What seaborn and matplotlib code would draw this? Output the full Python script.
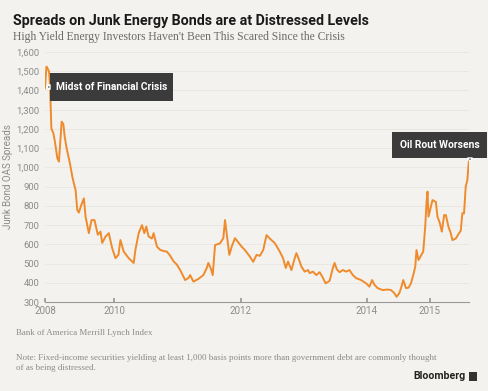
import matplotlib
matplotlib.use("Agg")
import matplotlib.pyplot as plt
import pandas as pd
import seaborn as sns
from matplotlib.patches import Polygon

# --- data (x = decimal year) ---
years = [
    2008.899, 2008.922, 2008.947, 2008.963, 2008.978, 2008.989, 2009.000, 2009.032,
    2009.057, 2009.095, 2009.120, 2009.136, 2009.163, 2009.190, 2009.211, 2009.242,
    2009.294, 2009.332, 2009.357, 2009.384, 2009.411, 2009.436, 2009.474, 2009.515,
    2009.542, 2009.594, 2009.637, 2009.684, 2009.736, 2009.779, 2009.806, 2009.858,
    2009.910, 2009.964, 2010.016, 2010.063, 2010.095, 2010.147, 2010.226, 2010.305,
    2010.332, 2010.384, 2010.437, 2010.474, 2010.505, 2010.542, 2010.595, 2010.621,
    2010.674, 2010.726, 2010.778, 2010.832, 2010.884, 2010.936, 2010.990, 2011.042,
    2011.121, 2011.173, 2011.200, 2011.252, 2011.331, 2011.410, 2011.464, 2011.489,
    2011.527, 2011.558, 2011.595, 2011.674, 2011.726, 2011.753, 2011.789, 2011.821,
    2011.859, 2011.911, 2011.963, 2012.016, 2012.069, 2012.147, 2012.200, 2012.253,
    2012.305, 2012.358, 2012.411, 2012.463, 2012.542, 2012.621, 2012.673, 2012.716,
    2012.752, 2012.806, 2012.858, 2012.885, 2012.926, 2012.964, 2013.016, 2013.068,
    2013.095, 2013.147, 2013.201, 2013.253, 2013.295, 2013.348, 2013.411, 2013.463,
    2013.490, 2013.526, 2013.569, 2013.621, 2013.674, 2013.727, 2013.779, 2013.832,
    2013.911, 2013.990, 2014.042, 2014.085, 2014.121, 2014.173, 2014.252, 2014.331,
    2014.385, 2014.437, 2014.473, 2014.516, 2014.543, 2014.579, 2014.622, 2014.663,
    2014.701, 2014.737, 2014.769, 2014.789, 2014.821, 2014.859, 2014.895, 2014.927,
    2014.947, 2014.963, 2014.979, 2015.017, 2015.042, 2015.096, 2015.121, 2015.159,
    2015.190, 2015.227, 2015.254, 2015.295, 2015.332, 2015.358, 2015.411, 2015.463,
    2015.490, 2015.516, 2015.542, 2015.569, 2015.595, 2015.610, 2015.621,
]
spreads = [
    1411, 1524, 1510, 1498, 1428, 1316, 1203, 1177,
    1132, 1047, 1030, 1108, 1238, 1225, 1160, 1100,
    1021, 952, 917, 882, 778, 765, 804, 839,
    744, 658, 726, 726, 650, 666, 607, 640,
    658, 580, 528, 545, 622, 562, 528, 503,
    570, 658, 700, 658, 692, 640, 630, 658,
    588, 571, 565, 562, 540, 512, 494, 466,
    414, 425, 440, 406, 420, 440, 477, 503,
    475, 440, 596, 605, 632, 726, 632, 545,
    588, 632, 610, 588, 570, 536, 509, 545,
    540, 570, 648, 630, 606, 562, 528, 477,
    510, 466, 528, 554, 520, 484, 458, 466,
    450, 458, 440, 455, 432, 397, 410, 477,
    503, 470, 455, 466, 458, 466, 440, 424,
    414, 397, 380, 414, 390, 372, 362, 365,
    362, 346, 327, 346, 372, 414, 372, 375,
    397, 440, 484, 570, 518, 540, 562, 692,
    814, 874, 744, 796, 830, 820, 744, 710,
    666, 752, 752, 692, 658, 622, 630, 658,
    670, 762, 760, 900, 934, 1000, 1038,
]
tick_years = [2008.899, 2010, 2012, 2014, 2015]
tick_labels = ["2008", "2010", "2012", "2014", "2015"]
y_ticks = list(range(300, 1700, 100))

df = pd.DataFrame({"year": years, "spread": spreads})

BG = "#f3f2ee"
ORANGE = "#ef8b2c"
BOX = "#3b3b3b"
GRAY = "#8c8c8c"

sns.set_theme(style="white", rc={"figure.facecolor": BG, "axes.facecolor": BG})
plt.rcParams["font.family"] = ["Roboto", "DejaVu Sans"]

fig = plt.figure(figsize=(4.88, 3.91), dpi=100)
ax = fig.add_axes([45 / 488, 1 - 302 / 391, (469 - 45) / 488, 250 / 391])

sns.lineplot(data=df, x="year", y="spread", color=ORANGE, lw=1.4, ax=ax)

ax.set_xlim(years[0], years[-1])
ax.set_ylim(300, 1600)
ax.set_yticks(y_ticks)
ax.set_yticklabels([f"{v:,}" for v in y_ticks])
ax.set_xticks(tick_years)
ax.set_xticklabels(tick_labels)
ax.tick_params(axis="y", length=0, pad=4, labelsize=6.8, labelcolor=GRAY)
ax.tick_params(axis="x", direction="in", length=3, color="#999999", pad=3,
               labelsize=7, labelcolor=GRAY, bottom=True)
ax.grid(axis="y", color="#e6e5df", lw=0.6)
ax.set_axisbelow(True)
for s in ["top", "right", "left"]:
    ax.spines[s].set_visible(False)
ax.spines["bottom"].set_color("#999999")
ax.spines["bottom"].set_linewidth(0.8)
ax.set_xlabel("")
ax.set_ylabel("Junk Bond OAS Spreads", fontsize=7, color=GRAY)
ax.yaxis.set_label_coords(-0.075, 0.5)

# annotation boxes (figure pixel coords)
def px(x, y):
    return x / 488, 1 - y / 391

def label_box(x0, y0, x1, y1, text):
    bx, by = px(x0, y1)
    w, h = (x1 - x0) / 488, (y1 - y0) / 391
    fig.patches.append(plt.Rectangle((bx, by), w, h, transform=fig.transFigure,
                                     facecolor=BOX, edgecolor="none", zorder=5))
    cx, cy = px((x0 + x1) / 2, (y0 + y1) / 2)
    fig.text(cx, cy, text, color="white", fontsize=7.4, fontweight="bold",
             ha="center", va="center", zorder=6)

label_box(50, 73, 173, 101, "Midst of Financial Crisis")
fig.patches.append(Polygon([px(46.5, 87), px(50, 84.5), px(50, 89.5)], closed=True,
                           transform=fig.transFigure, facecolor=BOX, zorder=5))
label_box(392, 132, 487, 158, "Oil Rout Worsens")
fig.patches.append(Polygon([px(467.5, 158), px(472.5, 158), px(470, 161.5)], closed=True,
                           transform=fig.transFigure, facecolor=BOX, zorder=5))

# titles
fig.text(13 / 488, 1 - 21 / 391, "Spreads on Junk Energy Bonds are at Distressed Levels",
         fontsize=10.3, fontweight="bold", color="#1a1a1a", va="center", ha="left")
fig.text(13 / 488, 1 - 37 / 391,
         "High Yield Energy Investors Haven't Been This Scared Since the Crisis",
         fontsize=8.4, color="#6b6b6b", va="center", ha="left",
         family=["Liberation Serif", "DejaVu Serif"])

# footer
serif = ["Liberation Serif", "DejaVu Serif"]
fig.text(16 / 488, 1 - 333 / 391, "Bank of America Merrill Lynch Index",
         fontsize=6.4, color="#8a8a8a", va="center", ha="left", family=serif)
fig.text(16 / 488, 1 - 358 / 391,
         "Note: Fixed-income securities yielding at least 1,000 basis points more than "
         "government debt are commonly thought",
         fontsize=6.5, color="#8a8a8a", va="center", ha="left", family=serif)
fig.text(16 / 488, 1 - 367.5 / 391, "of as being distressed.",
         fontsize=6.5, color="#8a8a8a", va="center", ha="left", family=serif)
fig.text(465 / 488, 1 - 376 / 391, "Bloomberg", fontsize=7.6, fontweight="bold",
         color="#222222", va="center", ha="right")
fig.patches.append(plt.Rectangle(px(469, 381), 8 / 488, 9 / 391, transform=fig.transFigure,
                                 facecolor="#333333", edgecolor="none"))

fig.savefig("out.png", dpi=100, facecolor=BG)
